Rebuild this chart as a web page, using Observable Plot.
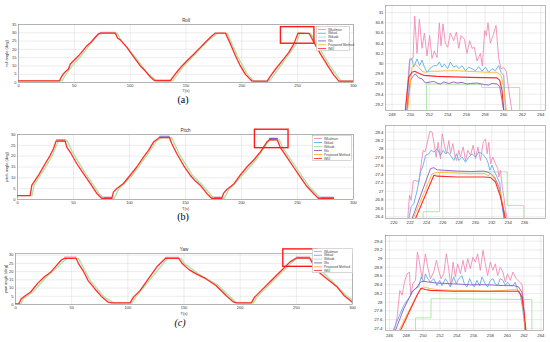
<!DOCTYPE html>
<html><head><meta charset="utf-8">
<script src="https://cdn.jsdelivr.net/npm/d3@7"></script>
<script src="https://cdn.jsdelivr.net/npm/@observablehq/plot@0.6"></script>
<style>
body{margin:0;background:#fff;}
#root{position:relative;width:550px;height:342px;overflow:hidden;font-family:"Liberation Sans",Arial,sans-serif;background:#fff;}
.p{position:absolute;}
.cap{position:absolute;font-family:"Liberation Serif","Times New Roman",serif;font-size:10px;transform:translateX(-50%);line-height:1;}
</style></head><body><div id="root"></div>
<script>
// ---------- legend ----------
const seriesNames = ["Wkalman","Wdual","Wduab","Wu","Proposed Method","IMU"];
const seriesColors = ["#ef8cb8","#63ade8","#a9e3a0","#8a5ac2","#ffb52e","#ff2b2b"];

// ---------- tick labels ----------
const mainXTicks = [0,50,100,150,200,250,300];
const rollYTicks = [0,5,10,15,20,25,30,35];
const pitchYTicks = [0,5,10,15,20,25,30];
const yawYTicks = [0,5,10,15,20,25,30];
const rollInsetXTicks = [248,250,252,254,256,258,260,262,264];
const rollInsetYTicks = [29.2,29.4,29.6,29.8,30,30.2,30.4,30.6,30.8,31];
const pitchInsetXTicks = [220,222,224,226,228,230,232,234,236];
const pitchInsetYTicks = [26.4,26.6,26.8,27,27.2,27.4,27.6,27.8,28,28.2,28.4];
const yawInsetXTicks = [246,248,250,252,254,256,258,260,262,264];
const yawInsetYTicks = [27.4,27.6,27.8,28,28.2,28.4,28.6,28.8,29,29.2,29.4];

// ---------- main panels: IMU (red) and lagged (green) ----------
const rollIMU = [[0,1],[36.8,1],[38.3,3.3],[40.3,5.3],[42.7,6.9],[44.8,8.2],[46.3,11],[49.3,13.1],[53.8,16.1],[57.7,19.2],[61.3,22.2],[64.9,24.3],[68.7,27.3],[71.7,29.4],[73.2,29.8],[86.7,29.8],[88.8,26.7],[91.2,25.7],[97.1,21.2],[103.1,15.5],[109.1,10],[113.6,6.9],[118.1,3.3],[121.6,1.2],[136,1.2],[139,3.9],[142,6.5],[146.4,10],[150.9,13.1],[156.9,17.1],[162.9,21.2],[167.4,24.3],[171.9,27.3],[176.3,29.8],[185.3,29.8],[189.8,23.3],[194.3,16.1],[198.7,10],[203.2,4.9],[209.2,0.8],[222.7,0.8],[225.6,3.9],[230.1,8],[236.1,13.1],[242.1,18.2],[246.6,23.3],[250.3,29.8],[260.2,29.7],[264.5,24.3],[270.5,17.1],[278,9],[282.4,4.5],[286.9,0.8],[300,0.8]];
const rollLag = [[0,1],[39,1],[42,4.5],[48,10],[56,16],[64,23],[71,28.5],[75,29.6],[88.5,29.6],[92,25],[105,15],[115,6],[123.5,1],[138,1],[148,10],[158,17],[170,25.5],[178.2,29.6],[187.2,29.6],[196,16],[205,4.9],[211,0.8],[224.7,0.8],[238,13],[248.5,23],[251.7,29.6],[261.7,29.5],[266.5,24],[280,9],[289,0.8],[300,0.8]];

const pitchIMU = [[0,1.8],[11.3,1.8],[12.8,6.6],[15.8,8.9],[18.8,11.2],[21.7,13.8],[24.7,16.5],[29.2,20.4],[32.1,23.4],[34.5,27],[42.6,27],[44,24.2],[47,21.9],[53,16.5],[58.9,11.9],[64.9,7.4],[70.8,2.8],[75.3,0.5],[84.2,0.5],[85.7,3.5],[88.7,5.1],[94.6,7.4],[100.6,11.2],[106.5,15],[112.5,19.6],[117,22.7],[121.4,26.5],[126.8,28.6],[135.7,28.6],[137.8,25.7],[142.3,21.1],[148.2,15.8],[154.2,11.2],[158.6,8.6],[163.1,6.6],[169,2.8],[173.5,0.5],[182.4,0.5],[183.9,2.8],[186.9,4.6],[192.9,7],[198.8,11.2],[204.8,15],[210.7,18.1],[216.7,21.9],[222.6,26.5],[224.9,27.6],[232,27.5],[234.5,24.2],[240.5,19.6],[246.4,15],[252.4,10.4],[258.3,6.1],[264.3,2.8],[268.8,0.5],[282.1,0.5]];
const pitchLag = [[0,1.8],[13,1.8],[14.8,6.6],[23.7,13.8],[31.2,20.4],[36.5,27],[44.6,27],[49,21.9],[60.9,11.9],[72.8,2.8],[77.3,0.5],[86.2,0.5],[90.7,5.1],[102.6,11.2],[114.5,19.6],[123.4,26.5],[128.8,28.6],[137.7,28.6],[144.3,21.1],[156.2,11.2],[165.1,6.6],[175.5,0.5],[184.4,0.5],[188.9,4.6],[200.8,11.2],[212.7,18.1],[223.6,26.5],[225.8,27.5],[233.9,27.5],[236.5,24.2],[248.4,15],[260.3,6.1],[270.8,0.5],[282,0.5]];

const yawIMU = [[0,0.4],[3,0.4],[5.1,3.5],[9,5.5],[13.5,7.6],[19.5,12.7],[25.5,16.7],[31.5,19.8],[36,23.3],[40.5,26.9],[43.5,28],[54,28],[56.1,24.9],[60,20.8],[64.5,14.7],[70.5,9.6],[76.5,4.9],[82.5,1.4],[85.5,1],[102,1],[105,4.5],[111,8.6],[118.4,15.7],[125.9,22.9],[133.4,28],[145.4,28],[148.4,24.9],[154.4,21.2],[160.4,18.8],[169.4,15.7],[178.4,11.6],[187.4,5.5],[193.4,1.8],[196.4,1],[209.9,1],[212.9,4.5],[218.9,8.6],[226.4,13.7],[235.4,19.8],[244.4,25.9],[250,28.3],[261.8,28.25],[265.4,23.9],[271.4,18.8],[278.9,14.7],[286.4,10.6],[292.4,5.5],[299.9,1.4]];
const yawLag = [[0,0.4],[5,0.4],[7,3.5],[15.5,7.6],[27.5,16.7],[38,23.3],[45.5,28],[56,28],[58.5,24.9],[66.5,14.7],[78.5,4.9],[87.5,1],[104,1],[107,4.5],[120.4,15.7],[135.4,28],[147.4,28],[150.4,24.9],[162.4,18.8],[180.4,11.6],[195.4,1.8],[198.4,1],[211.9,1],[214.9,4.5],[228.4,13.7],[237.4,19.8],[246.4,25.9],[251,28.08],[263,28.06],[267.4,23.9],[280.9,14.7],[294.4,5.5],[300,3]];

// short visible offsets of other estimators at plateaus / flats in main panels
const rollTopWk = [[73.5,30.3],[86.5,30.3]];
const pitchTopWk = [[35,27.6],[42.5,27.6]];
const pitchTop2Wk = [[127,29.2],[135.5,29.2]];
const pitchTop3Wk = [[225,28.2],[232,28.2]];
const pitchFlatPu = [[75.5,1.0],[84,1.0]];
const pitchFlat2Pu = [[173.8,1.0],[182.2,1.0]];
const pitchFlat3Pu = [[269,1.0],[282,1.0]];
const yawTopWk = [[43.8,28.8],[53.8,28.8]];
const yawTop2Wk = [[133.6,28.7],[145.2,28.7]];
const yawTop3Wk = [[250.2,28.8],[261.6,28.8]];

// zoom rectangles [x1, x2, y1, y2]
const rollBox = [235, 265, 23.4, 33.4];
const pitchBox = [212, 242, 23.7, 32.2];
const yawBox = [238.4, 269, 22.9, 33.5];

// ---------- roll inset ----------
const rollWk = [[249.43,29.05],[249.90,30.09],[250.26,30.11],[250.44,30.93],[250.69,30.20],[250.94,30.87],[251.23,30.30],[251.48,30.60],[251.76,30.15],[252.05,30.55],[252.30,30.10],[252.55,30.25],[252.84,30.12],[253.09,30.80],[253.27,30.35],[253.48,30.78],[253.73,30.40],[253.99,30.32],[254.27,30.60],[254.63,30.45],[254.92,30.62],[255.17,30.30],[255.42,30.55],[255.78,30.48],[256.06,30.20],[256.35,30.45],[256.60,30.30],[256.85,30.32],[257.14,30.05],[257.50,30.20],[257.71,29.95],[257.96,30.65],[258.14,30.55],[258.32,30.80],[258.57,30.40],[258.86,30.55],[259.18,30.75],[259.47,30.10],[259.72,29.90],[260.01,29.92],[260.29,29.85],[260.54,29.50],[260.90,29.05]];
const rollWd = [[249.61,29.08],[249.90,30.06],[250.15,30.09],[250.33,29.93],[250.69,30.09],[250.97,29.96],[251.23,30.07],[251.48,29.93],[251.76,29.83],[252.05,29.90],[252.48,29.96],[252.84,29.96],[253.09,30.03],[253.37,29.93],[253.63,29.99],[253.99,29.90],[254.27,30.03],[254.63,29.93],[254.92,29.96],[255.17,29.90],[255.53,29.96],[255.89,29.86],[256.24,29.93],[256.60,29.90],[256.96,29.86],[257.32,29.94],[257.68,29.85],[258.04,29.93],[258.39,29.83],[258.75,29.90],[259.11,29.86],[259.47,29.96],[259.72,29.83],[260.01,29.77],[260.19,29.08]];
const rollGr = [[251.7,29.0],[251.7,29.6],[257.6,29.59],[257.65,29.53],[261.73,29.53],[261.73,29.0]];
const rollPu = [[249.61,29.08],[249.97,29.67],[250.26,29.75],[250.51,29.80],[250.87,29.72],[251.23,29.70],[251.58,29.62],[252.12,29.64],[252.48,29.65],[252.84,29.62],[253.20,29.60],[253.56,29.64],[254.10,29.61],[254.63,29.64],[254.99,29.62],[255.53,29.63],[256.06,29.60],[256.42,29.61],[257.14,29.62],[257.86,29.59],[258.39,29.58],[258.75,29.61],[259.29,29.60],[259.58,29.55],[259.83,29.28],[260.01,29.08]];
const rollOr = [[249.68,29.08],[250.15,29.93],[250.51,29.98],[250.87,29.93],[251.23,29.85],[251.58,29.83],[252.12,29.85],[252.84,29.85],[253.91,29.86],[254.99,29.86],[256.06,29.85],[257.14,29.84],[258.21,29.83],[259.29,29.83],[259.72,29.77],[260.01,29.54],[260.29,29.08]];
const rollRd = [[249.43,29.08],[249.79,29.73],[250.15,29.83],[250.44,29.85],[250.87,29.81],[251.41,29.77],[252.84,29.75],[256.42,29.73],[259.29,29.72],[259.58,29.67],[259.83,29.47],[260.01,29.08]];

// ---------- pitch inset ----------
const pitchWk = [[221.71,26.36],[221.92,26.91],[222.12,26.79],[222.37,27.25],[222.65,27.26],[223.06,27.22],[223.35,27.65],[223.59,27.97],[223.80,27.93],[224.08,28.13],[224.41,28.42],[224.69,28.40],[224.90,28.16],[225.18,27.81],[225.43,28.16],[225.71,27.77],[225.92,28.36],[226.20,28.09],[226.45,27.89],[226.73,28.20],[226.94,27.89],[227.22,28.13],[227.43,27.89],[227.67,27.73],[227.96,27.97],[228.16,27.81],[228.49,28.05],[228.78,27.73],[229.06,27.97],[229.39,27.85],[229.71,28.09],[230.00,27.77],[230.29,28.05],[230.61,27.73],[230.94,28.16],[231.22,28.24],[231.43,27.89],[231.63,28.16],[231.84,27.65],[232.12,27.81],[232.45,27.65],[232.73,27.54],[232.86,27.34],[233.06,27.50],[233.27,27.11],[233.47,26.87],[233.67,26.56],[233.88,26.36]];
const pitchWd = [[221.84,26.36],[222.12,26.64],[222.45,26.71],[222.86,27.03],[223.27,27.46],[223.59,27.62],[223.88,27.85],[224.29,27.89],[224.57,27.97],[224.90,27.93],[225.31,28.01],[225.71,27.85],[226.04,27.97],[226.33,27.89],[226.61,27.93],[226.94,27.85],[227.35,27.73],[227.67,27.89],[227.96,27.73],[228.37,27.81],[228.78,27.69],[229.18,27.81],[229.59,27.89],[230.00,27.81],[230.41,27.93],[230.82,27.89],[231.22,27.81],[231.51,27.69],[231.76,27.50],[232.04,27.62],[232.33,27.46],[232.65,27.34],[232.98,27.18],[233.27,26.64],[233.47,26.36]];
const pitchGr = [[223.59,26.3],[223.59,26.52],[225.6,26.52],[225.6,27.46],[233.88,27.46],[233.88,26.67],[235.92,26.67],[235.92,26.3]];
const pitchPu = [[222.24,26.36],[224.49,27.54],[224.90,27.56],[225.31,27.51],[226.12,27.50],[227.76,27.48],[229.39,27.47],[231.02,27.48],[231.43,27.46],[231.84,27.42],[232.33,27.34],[232.86,27.11],[233.39,26.56],[233.55,26.36]];
const pitchOr = [[222.37,26.36],[224.69,27.42],[225.31,27.45],[226.94,27.44],[229.39,27.42],[231.22,27.42],[231.51,27.36],[231.84,27.42],[232.33,27.30],[232.98,27.03],[233.47,26.56],[233.67,26.36]];
const pitchRd = [[222.65,26.36],[224.90,27.38],[225.31,27.36],[227.76,27.34],[231.02,27.34],[231.84,27.33],[232.45,27.22],[233.06,26.87],[233.67,26.36]];

// ---------- yaw inset ----------
const yawWk = [[246.59,27.35],[246.91,27.66],[247.23,28.27],[247.50,28.16],[247.78,28.46],[248.10,28.65],[248.37,28.69],[248.53,28.16],[248.77,28.42],[249.09,28.50],[249.32,29.15],[249.56,28.92],[249.88,28.54],[250.27,29.11],[250.55,28.80],[250.87,28.54],[251.26,28.69],[251.58,28.96],[251.85,28.73],[252.13,28.54],[252.45,28.65],[252.76,29.11],[253.04,28.77],[253.28,28.38],[253.56,28.92],[253.83,28.58],[254.11,28.88],[254.43,28.65],[254.74,28.96],[255.02,28.69],[255.30,29.00],[255.61,28.77],[255.93,29.03],[256.21,28.92],[256.48,29.11],[256.80,28.73],[257.12,29.19],[257.39,28.88],[257.67,28.61],[257.99,28.92],[258.30,28.73],[258.58,28.88],[258.86,28.61],[259.17,28.80],[259.49,28.69],[259.77,28.46],[260.04,28.65],[260.36,28.50],[260.68,28.69],[261.07,28.54],[261.47,28.46],[261.74,28.42],[261.94,28.04],[262.14,27.35]];
const yawWd = [[246.44,27.35],[247.11,27.66],[247.70,27.93],[248.10,28.04],[248.41,28.12],[248.81,28.27],[249.09,28.31],[249.48,28.35],[249.76,28.58],[250.07,28.46],[250.27,28.65],[250.55,28.54],[250.87,28.46],[251.26,28.54],[251.66,28.38],[251.97,28.50],[252.25,28.38],[252.65,28.54],[252.92,28.46],[253.24,28.35],[253.63,28.58],[253.95,28.42],[254.23,28.54],[254.62,28.61],[254.90,28.42],[255.22,28.35],[255.53,28.54],[255.81,28.42],[256.09,28.35],[256.40,28.50],[256.72,28.38],[257.00,28.58],[257.39,28.42],[257.67,28.35],[257.99,28.50],[258.30,28.54],[258.58,28.42],[258.86,28.38],[259.17,28.54],[259.49,28.50],[259.77,28.38],[260.04,28.46],[260.36,28.38],[260.68,28.38],[260.95,28.46],[261.23,28.27],[261.55,28.19],[261.86,27.81],[262.14,27.35]];
const yawGr = [[249.09,27.3],[249.09,27.64],[250.94,27.64],[250.94,28.08],[262.93,28.06],[262.93,27.3]];
const yawPu = [[246.71,27.35],[247.70,27.85],[248.69,28.23],[249.28,28.35],[249.68,28.46],[250.07,28.48],[250.67,28.46],[251.66,28.44],[253.63,28.42],[255.61,28.40],[257.59,28.40],[259.57,28.38],[260.75,28.38],[261.35,28.35],[261.74,28.23],[261.94,27.89],[262.14,27.35]];
const yawOr = [[247.11,27.35],[249.68,28.31],[250.07,28.35],[250.87,28.31],[251.66,28.29],[253.63,28.27],[255.61,28.27],[257.59,28.25],[259.57,28.27],[260.75,28.29],[261.35,28.27],[261.63,28.16],[261.94,27.81],[262.14,27.35]];
const yawRd = [[247.31,27.35],[249.28,28.16],[249.76,28.32],[250.27,28.29],[250.87,28.27],[253.63,28.25],[257.59,28.25],[260.36,28.25],[261.35,28.25],[261.74,28.12],[262.02,27.74],[262.22,27.35]];

// ---------- helpers ----------
const root = document.getElementById("root");
function place(el, left, top){ el.classList.add("p"); el.style.left = left+"px"; el.style.top = top+"px"; root.appendChild(el); }
const fmt = d => String(+d.toFixed(1));

function panel(cfg){
  const marks = [
    Plot.gridX(cfg.xTicks, {stroke:"#d9d9d9", strokeOpacity:1, strokeWidth:0.5}),
    Plot.gridY(cfg.yTicks, {stroke:"#d9d9d9", strokeOpacity:1, strokeWidth:0.5}),
    Plot.frame({stroke:"#8c8c8c", strokeWidth:0.6}),
    Plot.axisX(cfg.xTicks, {tickSize:0, tickPadding:cfg.tickPad ?? 2, fontSize:cfg.fs, fill:"#333", tickFormat: fmt,
      label: cfg.xlabel ?? null, labelAnchor:"center", labelArrow:"none", labelOffset: cfg.xlabOff ?? 9}),
    Plot.axisY(cfg.yTicks, {tickSize:0, tickPadding:cfg.tickPad ?? 2, fontSize:cfg.fs, fill:"#333", tickFormat: fmt,
      label: cfg.ylabel ?? null, labelAnchor:"center", labelArrow:"none", labelOffset: cfg.ylabOff ?? 12})
  ];
  for (const s of cfg.series) {
    marks.push(Plot.line(s.data, {x: d=>d[0], y: d=>d[1], stroke: s.color, strokeWidth: s.w, clip: true}));
  }
  if (cfg.box) {
    marks.push(Plot.rect([cfg.box], {x1:d=>d[0], x2:d=>d[1], y1:d=>d[2], y2:d=>d[3], fill:"none", stroke:"#ff1a1a", strokeWidth:1.4}));
  }
  if (cfg.title) {
    marks.push(Plot.text([cfg.title], {frameAnchor:"top", dy:-3, fontSize:4.5, fill:"#333", lineAnchor:"bottom"}));
  }
  return Plot.plot({
    width: cfg.width, height: cfg.height,
    marginLeft: cfg.ml, marginRight: cfg.mr, marginTop: cfg.mt, marginBottom: cfg.mb,
    x: {domain: cfg.xDomain}, y: {domain: cfg.yDomain},
    style: {background:"transparent", fontFamily:"Liberation Sans, Arial, sans-serif", overflow:"visible"},
    marks
  });
}

function legend(left, top, w, h){
  const svg = d3.create("svg").attr("width", w).attr("height", h).style("overflow","visible");
  svg.append("rect").attr("x",0.3).attr("y",0.3).attr("width",w-0.6).attr("height",h-0.6).attr("fill","#fff").attr("stroke","#b0b0b0").attr("stroke-width",0.5);
  const step = (h-2)/seriesNames.length;
  seriesNames.forEach((n,i)=>{
    const y = 1.5 + step*(i+0.5);
    svg.append("line").attr("x1",2).attr("x2",10).attr("y1",y).attr("y2",y).attr("stroke",seriesColors[i]).attr("stroke-width",0.9);
    svg.append("text").attr("x",12).attr("y",y).attr("dy","0.35em").attr("font-size",3.3).attr("fill","#444")
      .attr("font-family","Liberation Sans, Arial, sans-serif").text(n);
  });
  place(svg.node(), left, top);
}

function caption(text, x, y, italic){
  const d = document.createElement("div");
  d.className = "cap"; d.textContent = text;
  if (italic) d.style.fontStyle = "italic";
  d.style.left = x+"px"; d.style.top = y+"px";
  root.appendChild(d);
}

const [cWk, cWd, cGr, cPu, cOr, cRd] = seriesColors;

// ---------- main panels ----------
place(panel({width:360, height:88, ml:18, mr:7, mt:10, mb:20, xDomain:[0,300], yDomain:[0,35],
  xTicks:mainXTicks, yTicks:rollYTicks, fs:4, xlabel:"T(s)", ylabel:"roll angle (deg)", xlabOff:9, ylabOff:13,
  title:"Roll", box: rollBox,
  series:[{data:rollTopWk, color:cWk, w:1.2},{data:rollLag, color:cGr, w:1.3},{data:rollIMU, color:cRd, w:1.3}]}), 0, 14);

place(panel({width:360, height:90, ml:17, mr:7, mt:10, mb:15, xDomain:[0,300], yDomain:[0,30],
  xTicks:mainXTicks, yTicks:pitchYTicks, fs:4, xlabel:"T(s)", ylabel:"pitch angle (deg)", xlabOff:10, ylabOff:12,
  title:"Pitch", box: pitchBox,
  series:[{data:pitchTopWk, color:cWk, w:1.2},{data:pitchTop2Wk, color:cPu, w:1.2},{data:pitchTop3Wk, color:cPu, w:1.2},
          {data:pitchFlatPu, color:cPu, w:1.2},{data:pitchFlat2Pu, color:cPu, w:1.2},{data:pitchFlat3Pu, color:cPu, w:1.2},
          {data:pitchLag, color:cGr, w:1.3},{data:pitchIMU, color:cRd, w:1.3}]}), 0, 124);

place(panel({width:360, height:80, ml:15, mr:8, mt:13, mb:16, xDomain:[0,300], yDomain:[0,31],
  xTicks:mainXTicks, yTicks:yawYTicks, fs:4, xlabel:"T(s)", ylabel:"yaw angle (deg)", xlabOff:10, ylabOff:11,
  title:"Yaw", box: yawBox,
  series:[{data:yawTopWk, color:cWk, w:1.2},{data:yawTop2Wk, color:cWk, w:1.2},{data:yawTop3Wk, color:cWk, w:1.2},
          {data:yawLag, color:cGr, w:1.3},{data:yawIMU, color:cRd, w:1.3}]}), 0, 240);

legend(316, 26, 34, 25);
legend(312, 135, 40, 26);
legend(312, 248, 41, 25);

caption("(a)", 183, 95, false);
caption("(b)", 183, 212, false);
caption("(c)", 180, 318, true);

// ---------- insets ----------
function insetSeries(wk, wd, gr, pu, or, rd){
  return [{data:gr, color:cGr, w:0.9},{data:wk, color:cWk, w:0.9},{data:wd, color:cWd, w:0.9},
          {data:pu, color:cPu, w:0.9},{data:or, color:cOr, w:0.9},{data:rd, color:cRd, w:1.1}];
}
place(panel({width:180, height:118, ml:15, mr:5, mt:5, mb:8, xDomain:[247.3,264.5], yDomain:[29.08,31.14],
  xTicks:rollInsetXTicks, yTicks:rollInsetYTicks, fs:4.3, series: insetSeries(rollWk, rollWd, rollGr, rollPu, rollOr, rollRd)}), 370, 0);
place(panel({width:180, height:108, ml:15, mr:5, mt:7, mb:8, xDomain:[218.98,238.57], yDomain:[26.36,28.557],
  xTicks:pitchInsetXTicks, yTicks:pitchInsetYTicks, fs:4.3, series: insetSeries(pitchWk, pitchWd, pitchGr, pitchPu, pitchOr, pitchRd)}), 370, 118);
place(panel({width:180, height:114, ml:15, mr:7, mt:7, mb:12, xDomain:[245.53,264.31], yDomain:[27.35,29.53],
  xTicks:yawInsetXTicks, yTicks:yawInsetYTicks, fs:4.3, tickPad:3, series: insetSeries(yawWk, yawWd, yawGr, yawPu, yawOr, yawRd)}), 370, 228);
</script></body></html>
